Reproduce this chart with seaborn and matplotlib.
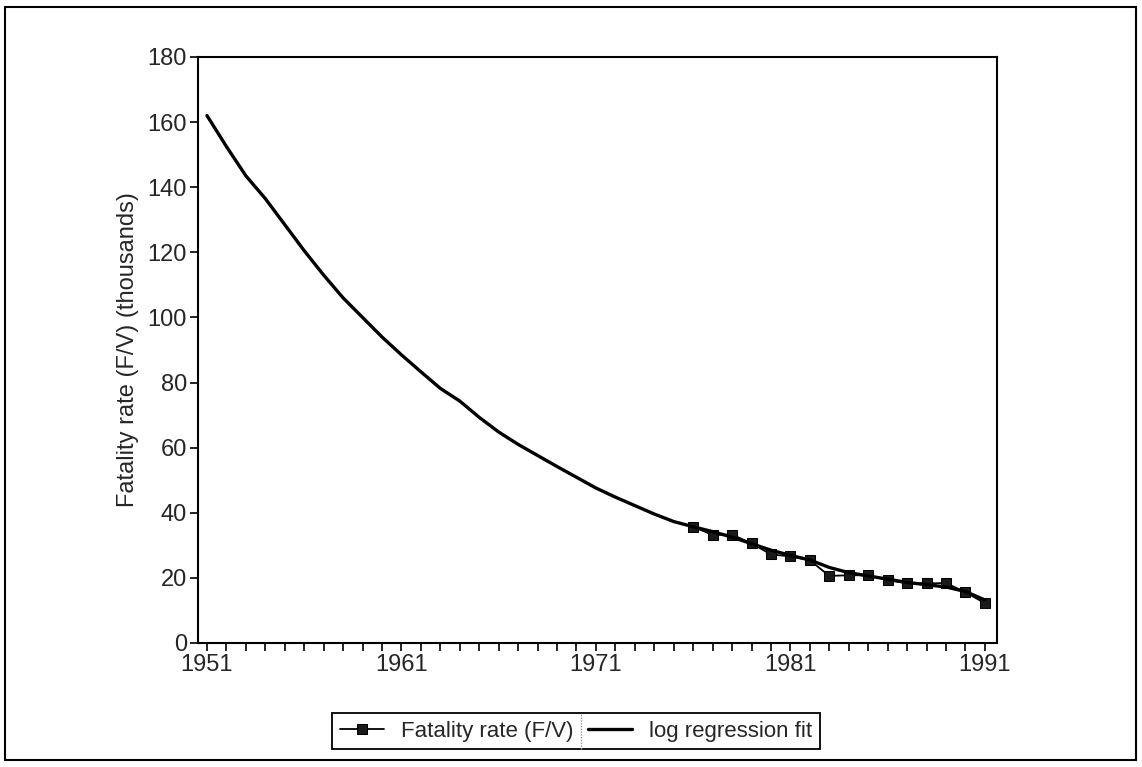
import matplotlib
matplotlib.use("Agg")
import matplotlib.pyplot as plt
from matplotlib.patches import Rectangle
from matplotlib.lines import Line2D
import pandas as pd
import seaborn as sns

# Observed fatality rate (F/V), thousands
obs_years = [1976, 1977, 1978, 1979, 1980, 1981, 1982, 1983,
             1984, 1985, 1986, 1987, 1988, 1989, 1990, 1991]
obs_rate = [35.7, 33.2, 33.3, 30.6, 27.2, 26.6, 25.4, 20.6,
            20.8, 20.8, 19.3, 18.3, 18.3, 18.4, 15.6, 12.2]

# Log regression fit, yearly
fit_years = list(range(1951, 1992))
fit_rate = [162.0, 152.5, 143.5, 136.5, 128.5, 120.5, 113.0, 106.0, 100.0, 94.0,
            88.5, 83.3, 78.2, 74.3, 69.3, 64.8, 61.0, 57.6, 54.2, 50.9,
            47.6, 44.8, 42.2, 39.6, 37.3, 35.7, 34.2, 32.5, 30.5, 28.5,
            26.9, 25.5, 23.2, 21.6, 20.6, 19.6, 18.6, 17.9, 17.2, 15.8, 13.2]

year_ticks = [1951, 1961, 1971, 1981, 1991]
rate_ticks = list(range(0, 181, 20))

obs = pd.DataFrame({"year": obs_years, "rate": obs_rate})
fit = pd.DataFrame({"year": fit_years, "rate": fit_rate})

sns.set_style("ticks")
plt.rcParams["font.family"] = ["Liberation Sans", "DejaVu Sans"]
plt.rcParams["xtick.direction"] = "out"
plt.rcParams["ytick.direction"] = "out"

fig = plt.figure(figsize=(11.42, 7.67), dpi=100)
ax = fig.add_axes([0.1734, 0.1617, 0.6996, 0.7640])

sns.lineplot(data=obs, x="year", y="rate", ax=ax, color="black", lw=1.3,
             marker="s", markersize=9, markeredgecolor="black",
             markerfacecolor="#1a1a1a", label="Fatality rate (F/V)")
sns.lineplot(data=fit, x="year", y="rate", ax=ax, color="black", lw=2.4,
             label="log regression fit")

ax.set_xlim(1950.54, 1991.62)
ax.set_ylim(0, 180)
ax.set_xticks(year_ticks)
ax.set_xticks(fit_years, minor=True)
ax.set_yticks(rate_ticks)
ax.tick_params(axis="both", which="both", length=6, width=1.2, color="black",
               labelsize=17, pad=2)
ax.set_xlabel("")
ax.set_ylabel("Fatality rate (F/V) (thousands)", fontsize=17, labelpad=6)
for s in ax.spines.values():
    s.set_visible(True)
    s.set_linewidth(1.5)
    s.set_color("black")

ax.get_legend().remove()
handles, labels = ax.get_legend_handles_labels()
for h in handles:
    if h.get_marker() == "s":
        h.set_markersize(7)
leg = fig.legend(handles, labels, loc="center", bbox_to_anchor=(0.5044, 0.0469),
                 ncol=2, frameon=True, fancybox=False, framealpha=1,
                 edgecolor="black", fontsize=16, handlelength=2.0,
                 columnspacing=0.65, handletextpad=0.75, borderpad=0.35,
                 borderaxespad=0)
leg.get_frame().set_linewidth(1.3)

# Thin gray divider between the two legend entries (drawn above the legend box)
fig.canvas.draw()
renderer = fig.canvas.get_renderer()
t1 = leg.get_texts()[0].get_window_extent(renderer)
fb = leg.get_frame().get_window_extent(renderer)
gap = 0.65 * 16 * 100 / 72.0
xdiv = (t1.x1 + gap / 2) / fig.bbox.width
fig.lines.append(Line2D([xdiv, xdiv], [fb.y0 / fig.bbox.height, fb.y1 / fig.bbox.height],
                        transform=fig.transFigure, color="#9a9a9a", lw=1.0,
                        ls=(0, (1, 1)), zorder=10))

# Outer frame around the whole figure
fig.patches.append(Rectangle((0.0044, 0.009), 0.9904, 0.9818, transform=fig.transFigure,
                             fill=False, edgecolor="black", lw=1.5))

fig.savefig("out.png", dpi=100, facecolor="white")
